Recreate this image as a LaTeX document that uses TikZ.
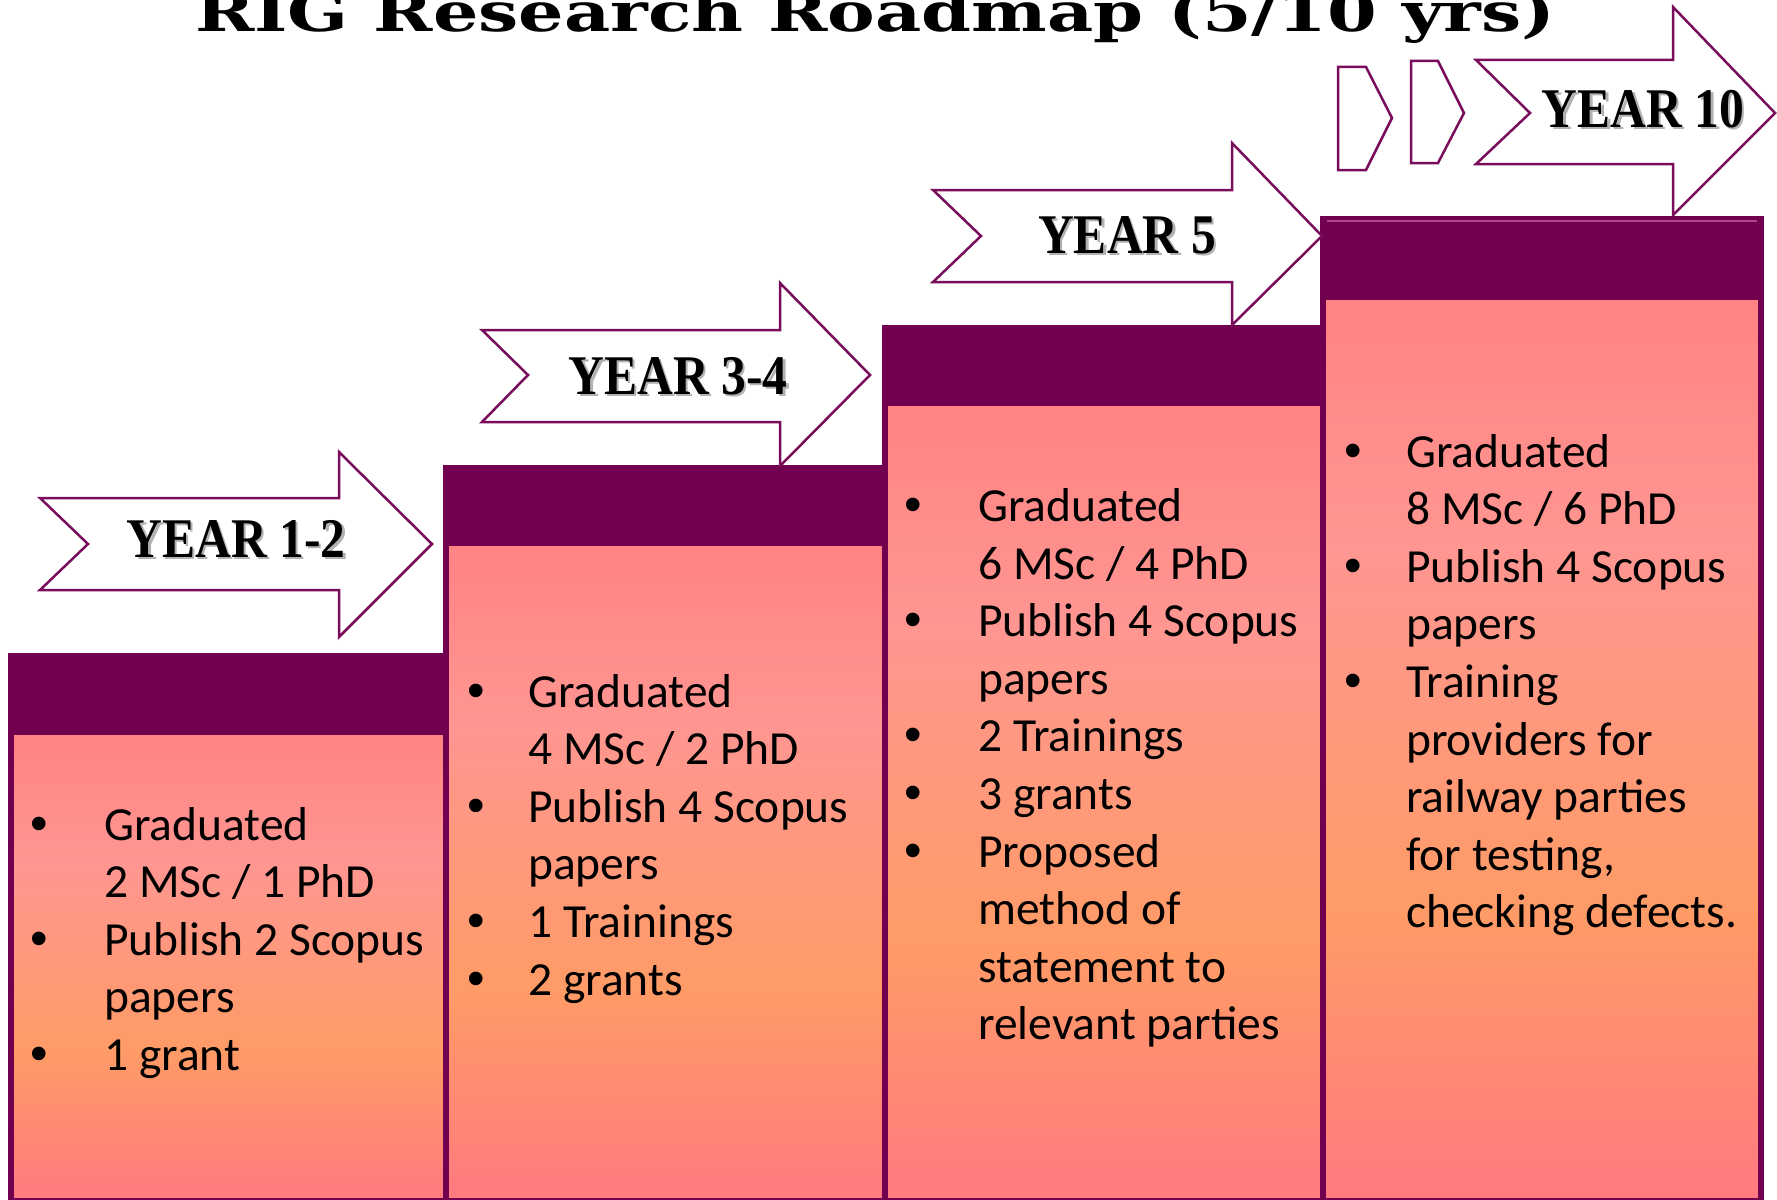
\documentclass[tikz,border=0pt]{standalone}
\usepackage{fontspec}
\usepackage{graphicx}
\setmainfont{Carlito}
\newfontfamily\titlefont{DejaVu Serif}
\newfontfamily\yearfont{Liberation Serif}
\newfontfamily\bulletfont{Liberation Sans}

\definecolor{plum}{RGB}{114,0,80}
\definecolor{arrowline}{RGB}{122,12,92}
\definecolor{hiline}{RGB}{175,70,135}
\definecolor{ctop}{RGB}{255,131,131}
\definecolor{clight}{RGB}{255,150,145}
\definecolor{corange}{RGB}{255,155,102}
\definecolor{cbot}{RGB}{255,122,128}

\pgfdeclareverticalshading{peach}{100bp}{color(0bp)=(cbot); color(25bp)=(cbot); color(41bp)=(corange); color(61bp)=(clight); color(75bp)=(ctop); color(100bp)=(ctop)}

\newcommand\bl[1]{\leavevmode\llap{\makebox[0pt][c]{\bulletfont\fontsize{50}{57.5}\selectfont •}\hspace{#1}}}

\tikzset{
  colbody/.style={shading=peach, draw=plum, line width=5.5pt},
  colhead/.style={fill=plum},
  yeararrow/.style={draw=arrowline, fill=white, line width=2.5pt, line join=miter},
  yearlbl/.style={anchor=base, inner sep=0pt, font=\yearfont\bfseries\fontsize{56}{60}\selectfont},
  yearshadow/.style={yearlbl, text=black!30},
  coltext/.style={anchor=base west, inner sep=0pt, font=\fontsize{47.5}{57.6}\selectfont},
}

\begin{document}
\begin{tikzpicture}[x=1pt, y=-1pt]
\useasboundingbox (0,0) rectangle (1777,1199);
\clip (0,0) rectangle (1777,1199);

% title
\node[anchor=base west, inner sep=0pt, font=\titlefont\bfseries\fontsize{54}{60}\selectfont] (title) at (195,32)
  {\resizebox{1360pt}{\height}{RIG Research Roadmap (5/10 yrs)}};

% columns
\shadedraw[colbody] (11,732) rectangle (446,1201);
\fill[colhead] (8.25,653) rectangle (448.75,735);

\shadedraw[colbody] (446,543) rectangle (885,1201);
\fill[colhead] (443.25,465) rectangle (887.75,546);

\shadedraw[colbody] (885,402) rectangle (1323,1201);
\fill[colhead] (882.25,325) rectangle (1325.75,406);

\shadedraw[colbody] (1323,297) rectangle (1761,1201);
\fill[colhead] (1320.25,216) rectangle (1763.75,300);
\draw[hiline, line width=1.2pt] (1327,221) -- (1757,221);

% arrows
\draw[yeararrow] (40,498) -- (339,498) -- (339,452) -- (432,544) -- (339,637) -- (339,590) -- (40,590) -- (88,544) -- cycle;
\draw[yeararrow] (482,330) -- (780,330) -- (780,283) -- (870,375) -- (780,466) -- (780,422) -- (482,422) -- (528,375) -- cycle;
\draw[yeararrow] (933,190) -- (1232,190) -- (1232,143) -- (1322,236) -- (1232,325) -- (1232,282) -- (933,282) -- (981,236) -- cycle;
\draw[yeararrow] (1476,60) -- (1673,60) -- (1673,7) -- (1775,113) -- (1673,215) -- (1673,164) -- (1476,164) -- (1530,113) -- cycle;
\draw[yeararrow] (1338,67) -- (1366,67) -- (1392,118) -- (1366,170) -- (1338,170) -- cycle;
\draw[yeararrow] (1411,61) -- (1438,61) -- (1464,113) -- (1438,163) -- (1411,163) -- cycle;

% year labels
\node[yearshadow] (y12s) at (238.5,559.5) {\scalebox{0.885}[1]{YEAR 1-2}};
\node[yearlbl] (y12) at (236,557) {\scalebox{0.885}[1]{YEAR 1-2}};
\node[yearshadow] (y34s) at (680.5,396.5) {\scalebox{0.885}[1]{YEAR 3-4}};
\node[yearlbl] (y34) at (678,394) {\scalebox{0.885}[1]{YEAR 3-4}};
\node[yearshadow] (y5s) at (1129.5,255.5) {\scalebox{0.885}[1]{YEAR 5}};
\node[yearlbl] (y5) at (1127,253) {\scalebox{0.885}[1]{YEAR 5}};
\node[yearshadow] (y10s) at (1645.5,129.5) {\scalebox{0.885}[1]{YEAR 10}};
\node[yearlbl] (y10) at (1643,127) {\scalebox{0.885}[1]{YEAR 10}};

% column texts
\node[coltext] (t1) at (104,840) {\parbox[t]{340pt}{\raggedright
  \bl{65pt}Graduated\\
  2 MSc / 1 PhD\\
  \bl{65pt}Publish 2 Scopus\\
  papers\\
  \bl{65pt}1 grant}};

\node[coltext] (t2) at (528,707) {\parbox[t]{350pt}{\raggedright
  \bl{52pt}Graduated\\
  4 MSc / 2 PhD\\
  \bl{52pt}Publish 4 Scopus\\
  papers\\
  \bl{52pt}1 Trainings\\
  \bl{52pt}2 grants}};

\node[coltext] (t3) at (978,521.5) {\parbox[t]{340pt}{\raggedright
  \bl{65pt}Graduated\\
  6 MSc / 4 PhD\\
  \bl{65pt}Publish 4 Scopus\\
  papers\\
  \bl{65pt}2 Trainings\\
  \bl{65pt}3 grants\\
  \bl{65pt}Proposed\\
  method of\\
  statement to\\
  relevant parties}};

\node[coltext] (t4) at (1406,467) {\parbox[t]{350pt}{\raggedright
  \bl{53pt}Graduated\\
  8 MSc / 6 PhD\\
  \bl{53pt}Publish 4 Scopus\\
  papers\\
  \bl{53pt}Training\\
  providers for\\
  railway parties\\
  for testing,\\
  checking defects.}};
\end{tikzpicture}
\end{document}
